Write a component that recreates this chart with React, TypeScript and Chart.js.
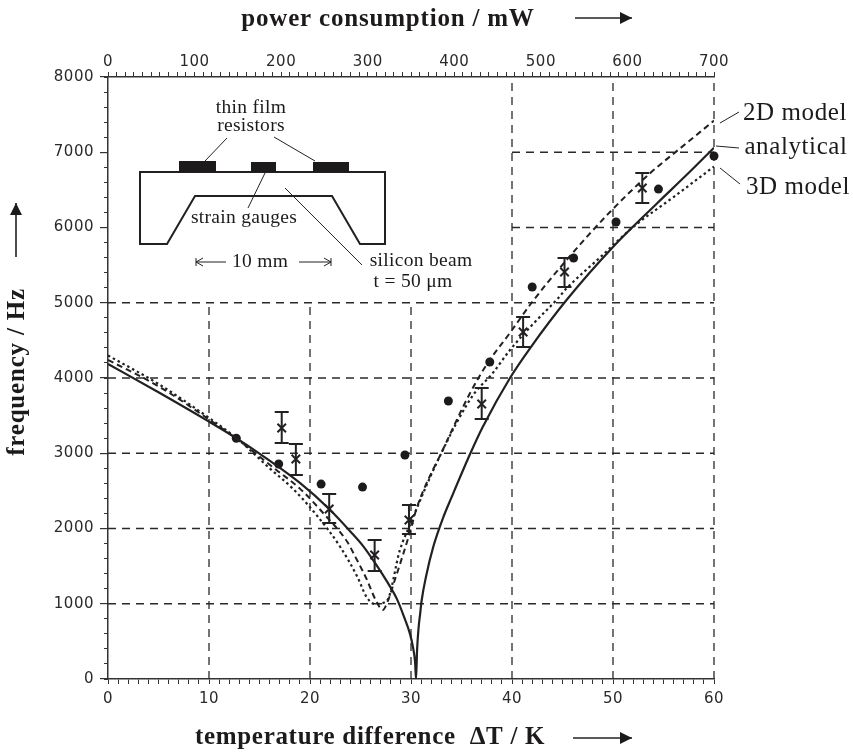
import React, { useEffect, useRef } from "react";
import { Chart, registerables } from "chart.js";

Chart.register(...registerables);

const INK = "#232021";

// Series: [temperature difference K, frequency Hz]
const analyticalT = [0, 5, 10, 12.7, 15, 19, 21.9, 24, 25.3, 26.6, 27.6, 28.6, 29.3, 29.9, 30.2, 30.4, 30.5, 30.6, 30.75, 30.9, 31.05, 31.5, 32.2, 33.2, 34, 35.85, 37.1, 39.8, 41.8, 45.4, 50, 54.4, 57.3, 60];
const analyticalF = [4186, 3810, 3420, 3200, 2995, 2605, 2259, 1960, 1760, 1510, 1300, 1065, 830, 600, 420, 230, 0, 380, 680, 860, 1040, 1370, 1754, 2150, 2410, 2990, 3349, 4000, 4398, 5036, 5741, 6326, 6700, 7060];
const model2dT = [0, 5, 10, 13, 16.7, 19, 21.3, 23.7, 24.5, 25.6, 26.5, 27.2, 27.6, 28.4, 29.9, 30.6, 33.2, 35.85, 37.5, 39.8, 42, 45.4, 49.7, 53.7, 57.3, 60];
const model2dF = [4240, 3890, 3450, 3165, 2775, 2530, 2206, 1820, 1620, 1330, 1050, 917, 1000, 1316, 1953, 2286, 3060, 3800, 4180, 4600, 5010, 5568, 6206, 6724, 7123, 7420];
const model3dT = [0, 5, 10, 13, 16, 18.3, 20.7, 23, 24.7, 25.6, 26.4, 27.6, 28.9, 29.9, 31.9, 33, 34.5, 36.3, 38, 39.8, 42.1, 44.5, 45.4, 48.7, 52, 56, 60];
const model3dF = [4300, 3920, 3470, 3170, 2800, 2530, 2170, 1754, 1355, 1090, 997, 1037, 1714, 2050, 2684, 3000, 3402, 3801, 4050, 4372, 4720, 5050, 5190, 5600, 6007, 6405, 6810];
const dotsT = [12.7, 16.9, 21.1, 25.2, 29.4, 33.7, 37.8, 42, 46.1, 50.3, 54.5, 60];
const dotsF = [3200, 2857, 2590, 2550, 2977, 3695, 4213, 5210, 5595, 6073, 6510, 6950];
const crossT = [17.2, 18.6, 21.9, 26.4, 29.8, 37.0, 41.1, 45.2, 52.9];
const crossF = [3336, 2924, 2259, 1648, 2113, 3654, 4611, 5409, 6525];
const crossHi = [3548, 3123, 2458, 1847, 2312, 3867, 4811, 5595, 6724];
const crossLo = [3136, 2711, 2073, 1435, 1927, 3455, 4412, 5209, 6326];

// Partial dashed grid: vertical [x, from, to], horizontal [y, from, to]
const gridV = [[10, 0, 5000], [20, 0, 5000], [30, 0, 5000], [40, 0, 8000], [50, 0, 8000], [60, 0, 8000]];
const gridH = [[1000, 0, 60], [2000, 0, 60], [3000, 0, 60], [4000, 0, 60], [5000, 0, 60], [6000, 40, 60], [7000, 40, 60]];

const serif = '"Liberation Serif", serif';
type Txt = [string, number, number, string, string, number?];
const texts: Txt[] = [
  ["power consumption / mW", 388, 20, `bold 25px ${serif}`, "center", 0.8],
  ["temperature difference  ΔT / K", 370, 738, `bold 25px ${serif}`, "center", 0.7],
  ["2D model", 795, 113, `25px ${serif}`, "center", 0.6],
  ["analytical", 796, 147, `25px ${serif}`, "center", 0.6],
  ["3D model", 798, 187, `25px ${serif}`, "center", 0.6],
  ["thin film", 251, 108, `19.5px ${serif}`, "center", 0.3],
  ["resistors", 251, 126, `19.5px ${serif}`, "center", 0.3],
  ["strain gauges", 244, 218, `19.5px ${serif}`, "center", 0.3],
  ["10 mm", 260, 262, `19.5px ${serif}`, "center", 0.3],
  ["silicon beam", 421, 261, `19.5px ${serif}`, "center", 0.3],
  ["t = 50 μm", 413, 282, `19.5px ${serif}`, "center", 0.3],
];
const leaders = [
  [[720, 123], [739, 112]], [[716, 146], [739, 148]], [[720, 168], [740, 184]],
  [[227, 138], [205, 161]], [[274, 137], [315, 161]], [[265, 173], [248, 208]], [[285, 188], [362, 265]],
];
const beam = [[140, 172], [385, 172], [385, 244], [360, 244], [332, 196], [195, 196], [167, 244], [140, 244]];
const pads = [[179, 161, 37, 11], [251, 162, 25, 10], [313, 162, 36, 10]];

const overlay = {
  id: "overlay",
  beforeDraw(chart: any) {
    (chart.ctx as any).letterSpacing = "0.5px";
  },
  beforeDatasetsDraw(chart: any) {
    const { ctx, scales } = chart;
    ctx.save();
    ctx.strokeStyle = "#2b2829";
    ctx.lineWidth = 1.3;
    ctx.setLineDash([8, 6]);
    for (const [x, a, b] of gridV) {
      const p = scales.x.getPixelForValue(x);
      ctx.beginPath(); ctx.moveTo(p, scales.y.getPixelForValue(a)); ctx.lineTo(p, scales.y.getPixelForValue(b)); ctx.stroke();
    }
    for (const [y, a, b] of gridH) {
      const p = scales.y.getPixelForValue(y);
      ctx.beginPath(); ctx.moveTo(scales.x.getPixelForValue(a), p); ctx.lineTo(scales.x.getPixelForValue(b), p); ctx.stroke();
    }
    ctx.restore();
  },
  afterDatasetsDraw(chart: any) {
    const { ctx, scales } = chart;
    ctx.save();
    ctx.strokeStyle = INK;
    ctx.lineWidth = 2;
    crossT.forEach((t, i) => {
      const px = scales.x.getPixelForValue(t);
      const hi = scales.y.getPixelForValue(crossHi[i]);
      const lo = scales.y.getPixelForValue(crossLo[i]);
      ctx.beginPath();
      ctx.moveTo(px, hi); ctx.lineTo(px, lo);
      ctx.moveTo(px - 7, hi); ctx.lineTo(px + 7, hi);
      ctx.moveTo(px - 7, lo); ctx.lineTo(px + 7, lo);
      ctx.stroke();
    });
    // inset
    ctx.lineWidth = 2;
    ctx.beginPath();
    beam.forEach(([x, y], i) => (i ? ctx.lineTo(x, y) : ctx.moveTo(x, y)));
    ctx.closePath();
    ctx.stroke();
    ctx.fillStyle = "#1c1a1b";
    pads.forEach(([x, y, w, h]) => ctx.fillRect(x, y, w, h));
    ctx.lineWidth = 1;
    for (const [a, b] of leaders) {
      ctx.beginPath(); ctx.moveTo(a[0], a[1]); ctx.lineTo(b[0], b[1]); ctx.stroke();
    }
    // small dimension arrows
    ctx.beginPath();
    ctx.moveTo(226, 262); ctx.lineTo(196, 262); ctx.moveTo(203, 258); ctx.lineTo(196, 262); ctx.lineTo(203, 266);
    ctx.moveTo(196, 258); ctx.lineTo(196, 266);
    ctx.moveTo(299, 262); ctx.lineTo(331, 262); ctx.moveTo(324, 258); ctx.lineTo(331, 262); ctx.lineTo(324, 266);
    ctx.moveTo(331, 258); ctx.lineTo(331, 266);
    ctx.stroke();
    // big title arrows
    const arrow = (x1: number, y1: number, x2: number, y2: number) => {
      const a = Math.atan2(y2 - y1, x2 - x1);
      ctx.lineWidth = 1.6;
      ctx.beginPath(); ctx.moveTo(x1, y1); ctx.lineTo(x2, y2); ctx.stroke();
      ctx.beginPath();
      ctx.moveTo(x2, y2);
      ctx.lineTo(x2 - 12 * Math.cos(a) + 6 * Math.sin(a), y2 - 12 * Math.sin(a) - 6 * Math.cos(a));
      ctx.lineTo(x2 - 12 * Math.cos(a) - 6 * Math.sin(a), y2 - 12 * Math.sin(a) + 6 * Math.cos(a));
      ctx.closePath(); ctx.fill();
    };
    arrow(575, 18, 632, 18);
    arrow(573, 738, 632, 738);
    arrow(16, 257, 16, 203);
    // texts
    ctx.fillStyle = "#1c1a1b";
    ctx.textBaseline = "middle";
    for (const [s, x, y, font, align, sp] of texts) {
      ctx.font = font;
      ctx.textAlign = align;
      (ctx as any).letterSpacing = `${sp ?? 0}px`;
      ctx.fillText(s, x, y);
    }
    ctx.translate(18, 372);
    ctx.rotate(-Math.PI / 2);
    ctx.font = `bold 25px ${serif}`;
    ctx.textAlign = "center";
    (ctx as any).letterSpacing = "0.8px";
    ctx.fillText("frequency / Hz", 0, 0);
    ctx.restore();
  },
};

const tickFont = { family: '"DejaVu Sans", sans-serif', size: 15 };
const every = (n: number) => (v: any) => (Number(v) % n === 0 ? String(v) : "");

export default function App() {
  const ref = useRef<HTMLCanvasElement>(null);
  useEffect(() => {
    const pts = (xs: number[], ys: number[]) => xs.map((x, i) => ({ x, y: ys[i] }));
    const lineBase = { showLine: true, pointRadius: 0, cubicInterpolationMode: "monotone", borderColor: INK, fill: false };
    const chart = new Chart(ref.current!, {
      type: "scatter",
      data: {
        datasets: [
          { ...lineBase, label: "analytical", data: pts(analyticalT, analyticalF), borderWidth: 2.2 },
          { ...lineBase, label: "2D model", data: pts(model2dT, model2dF), borderWidth: 2, borderDash: [6, 4] },
          { ...lineBase, label: "3D model", data: pts(model3dT, model3dF), borderWidth: 2.2, borderDash: [2.5, 3] },
          { label: "measured", data: pts(dotsT, dotsF), pointRadius: 4.5, pointBackgroundColor: "#1c1a1b", pointBorderWidth: 0, clip: false },
          { label: "simulated", data: pts(crossT, crossF), pointStyle: "crossRot", pointRadius: 6, pointBorderColor: INK, pointBorderWidth: 2, pointBackgroundColor: INK },
        ] as any,
      },
      options: {
        responsive: false,
        animation: false,
        layout: { padding: { left: 0, top: 0, bottom: 0, right: 139 } },
        plugins: { legend: { display: false }, tooltip: { enabled: false }, title: { display: false } },
        scales: {
          x: {
            type: "linear", position: "bottom", min: 0, max: 60,
            afterFit: (s: any) => { s.height = 73; },
            border: { display: true, color: "#333", width: 1.5 },
            grid: { drawOnChartArea: false, drawTicks: true, tickLength: 5, color: "#333", lineWidth: 1 },
            ticks: { stepSize: 1, autoSkip: false, maxRotation: 0, color: "#2a2a2a", font: tickFont, padding: 6, callback: every(10) },
          },
          x2: {
            type: "linear", position: "top", min: 0, max: 700,
            afterFit: (s: any) => { s.height = 77; },
            border: { display: true, color: "#333", width: 1.5 },
            grid: { drawOnChartArea: false, tickLength: 5, color: "#333", lineWidth: 1 },
            ticks: { stepSize: 10, autoSkip: false, maxRotation: 0, color: "#2a2a2a", font: tickFont, padding: 1, callback: every(100) },
          },
          y: {
            type: "linear", position: "left", min: 0, max: 8000, weight: 1,
            afterFit: (s: any) => { s.width = 108; },
            border: { display: true, color: "#333", width: 1.5 },
            grid: { drawOnChartArea: false, tickLength: 8, color: "#333", lineWidth: 1.2 },
            ticks: { stepSize: 1000, autoSkip: false, color: "#2a2a2a", font: tickFont, padding: 6, callback: (v: any) => String(v) },
          },
          yMinor: {
            type: "linear", position: "left", min: 0, max: 8000, weight: 0,
            afterFit: (s: any) => { s.width = 0; },
            border: { display: false },
            grid: { drawOnChartArea: false, tickLength: 4, color: "#333", lineWidth: 1 },
            ticks: { stepSize: 200, autoSkip: false, callback: () => "", padding: 0 },
          },
        },
      } as any,
      plugins: [overlay],
    });
    return () => chart.destroy();
  }, []);
  return <canvas ref={ref} width={853} height={752} style={{ position: "absolute", left: 0, top: 0, display: "block" }} />;
}
